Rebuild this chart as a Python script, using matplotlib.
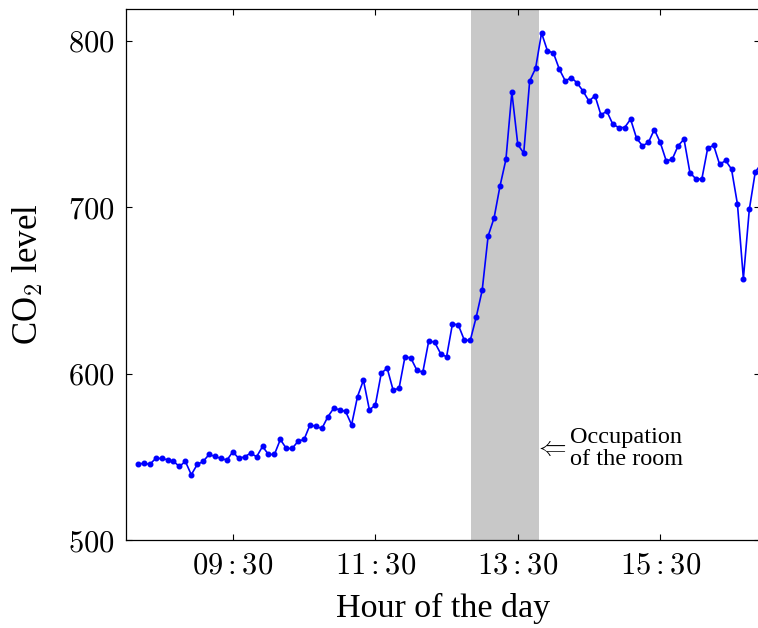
"""
CO2 level in a room over one day, with the occupied period shaded.
"""

import matplotlib
matplotlib.use("Agg")
import matplotlib.pyplot as plt
import matplotlib.dates as mdates
import matplotlib.ticker as mticker
import pandas as pd

# Sensor readings, one every 5 minutes starting at 08:10
co2 = [
    545.4, 546.2, 545.4, 549.0, 549.0, 548.2, 547.2, 544.2, 547.2, 539.2,
    545.4, 547.2, 551.4, 550.2, 549.0, 548.0, 553.0, 549.0, 550.0, 552.2,
    550.0, 556.2, 551.4, 551.4, 560.4, 555.0, 555.0, 559.4, 560.4, 569.2,
    568.2, 567.0, 574.0, 579.2, 578.2, 577.2, 569.2, 586.2, 596.0, 578.2,
    581.0, 600.2, 603.2, 590.0, 591.2, 610.2, 609.2, 602.0, 600.8, 619.6,
    618.8, 612.0, 610.0, 630.0, 629.0, 620.0, 620.0, 634.0, 650.0, 682.6,
    693.4, 712.6, 728.6, 769.0, 737.6, 732.4, 775.8, 783.4, 804.6, 793.8,
    792.6, 782.8, 775.8, 777.8, 774.6, 769.6, 763.6, 767.0, 755.4, 757.6,
    749.8, 747.8, 747.8, 752.8, 741.4, 736.8, 738.8, 746.6, 738.8, 727.8,
    728.6, 736.8, 740.8, 720.6, 717.0, 716.8, 735.6, 737.0, 725.6, 728.0,
    722.8, 701.8, 657.0, 698.6, 721.0, 726.0,
]
day = "2020-01-01"
first_sample = "08:10"
sample_step = "5min"
tick_labels = ["09:30", "11:30", "13:30", "15:30"]
y_ticks = [500, 600, 700, 800]
occupied = ("12:51", "13:48")
x_range = ("08:00", "16:54")
y_range = (500, 819)


def at(hhmm):
    return pd.Timestamp(f"{day} {hhmm}")


times = pd.date_range(at(first_sample), periods=len(co2), freq=sample_step)

plt.rcParams["font.family"] = "Liberation Serif"
plt.rcParams["mathtext.fontset"] = "cm"

fig = plt.figure(figsize=(7.58, 6.28), dpi=100)
ax = fig.add_axes([126 / 758, 88 / 628, 634 / 758, 531 / 628])

# Occupation of the room
ax.axvspan(at(occupied[0]), at(occupied[1]), color="#c8c8c8", lw=0, zorder=0)

ax.plot(times, co2, color="#0000ff", lw=1.2, marker="o", markersize=3.3, zorder=3)

ax.text(at(occupied[1]) - pd.Timedelta(minutes=4), 555, r"$\Leftarrow$",
        fontsize=20, ha="left", va="center")
ax.text(at("14:14"), 555, "Occupation\nof the room",
        fontsize=17.5, ha="left", va="center", linespacing=1.1)

ax.set_xlim(at(x_range[0]), at(x_range[1]))
ax.set_ylim(*y_range)

ax.xaxis.set_major_locator(mticker.FixedLocator([mdates.date2num(at(t)) for t in tick_labels]))
ax.xaxis.set_major_formatter(mdates.DateFormatter(r"$%H:%M$"))
ax.yaxis.set_major_locator(mticker.FixedLocator(y_ticks))
ax.yaxis.set_major_formatter(mticker.FuncFormatter(lambda v, p: f"${v:.0f}$"))

ax.tick_params(direction="in", length=4.5, width=0.8, top=True, right=True,
               labelsize=22, pad=8)
for s in ax.spines.values():
    s.set_linewidth(0.9)

ax.set_xlabel("Hour of the day", fontsize=24.5)
ax.set_ylabel("CO$_2$ level", fontsize=25)
ax.xaxis.set_label_coords(0.5, -0.1)
ax.yaxis.set_label_coords(-0.127, 0.5)

fig.savefig("out.png", dpi=100)
plt.close(fig)
